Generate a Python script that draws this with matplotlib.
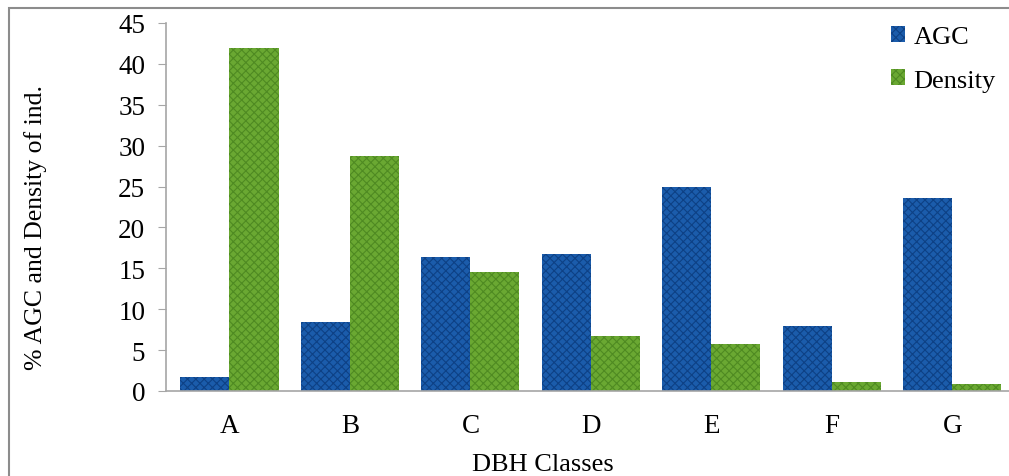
import numpy as np
import matplotlib.pyplot as plt
from matplotlib.patches import Rectangle

classes = ["A", "B", "C", "D", "E", "F", "G"]
agc = [1.7, 8.4, 16.4, 16.7, 24.9, 7.9, 23.6]
density = [42.0, 28.7, 14.5, 6.7, 5.7, 1.1, 0.8]

plt.rcParams["font.family"] = ["Liberation Serif", "DejaVu Serif"]
plt.rcParams["hatch.linewidth"] = 0.8

fig = plt.figure(figsize=(10.09, 4.77), dpi=100)
ax = fig.add_axes([166 / 1009, 85 / 477, 843 / 1009, 368 / 477])

x = np.arange(len(classes))
w = 0.407
ax.bar(x - w / 2, agc, w, color="#1b5cab", edgecolor="#0e4185",
       hatch="xxxx", linewidth=0, label="AGC")
ax.bar(x + w / 2, density, w, color="#6aa832", edgecolor="#4f8a22",
       hatch="xxxx", linewidth=0, label="Density")

ax.set_xlim(-0.527, 6.47)
ax.set_ylim(0, 45)
ax.set_yticks(range(0, 46, 5))
ax.set_xticks(x, classes)

for s in ["top", "right"]:
    ax.spines[s].set_visible(False)
for s in ["left", "bottom"]:
    ax.spines[s].set_color("#a6a6a6")
    ax.spines[s].set_linewidth(1.2)
ax.tick_params(axis="y", length=6, color="#a6a6a6", labelsize=19.5, pad=9)
ax.tick_params(axis="x", length=0, labelsize=19.5, pad=16)

ax.set_xlabel("DBH Classes", fontsize=19)
ax.set_ylabel("% AGC and Density of ind.", fontsize=18.5)
ax.xaxis.set_label_coords(0.447, -0.169)
ax.yaxis.set_label_coords(-0.141, 0.448)

ax.legend(loc="upper right", bbox_to_anchor=(1.006, 1.042), frameon=False,
          fontsize=19, handlelength=0.55, handleheight=0.55,
          handletextpad=0.3, labelspacing=0.8, borderaxespad=0.3)

fig.patches.append(Rectangle((9 / 1009, -0.1), 1.2, 1.1 - 9 / 477,
                             transform=fig.transFigure, fill=False,
                             edgecolor="#8c8c8c", linewidth=1.5))

fig.savefig("out.png", dpi=100)
